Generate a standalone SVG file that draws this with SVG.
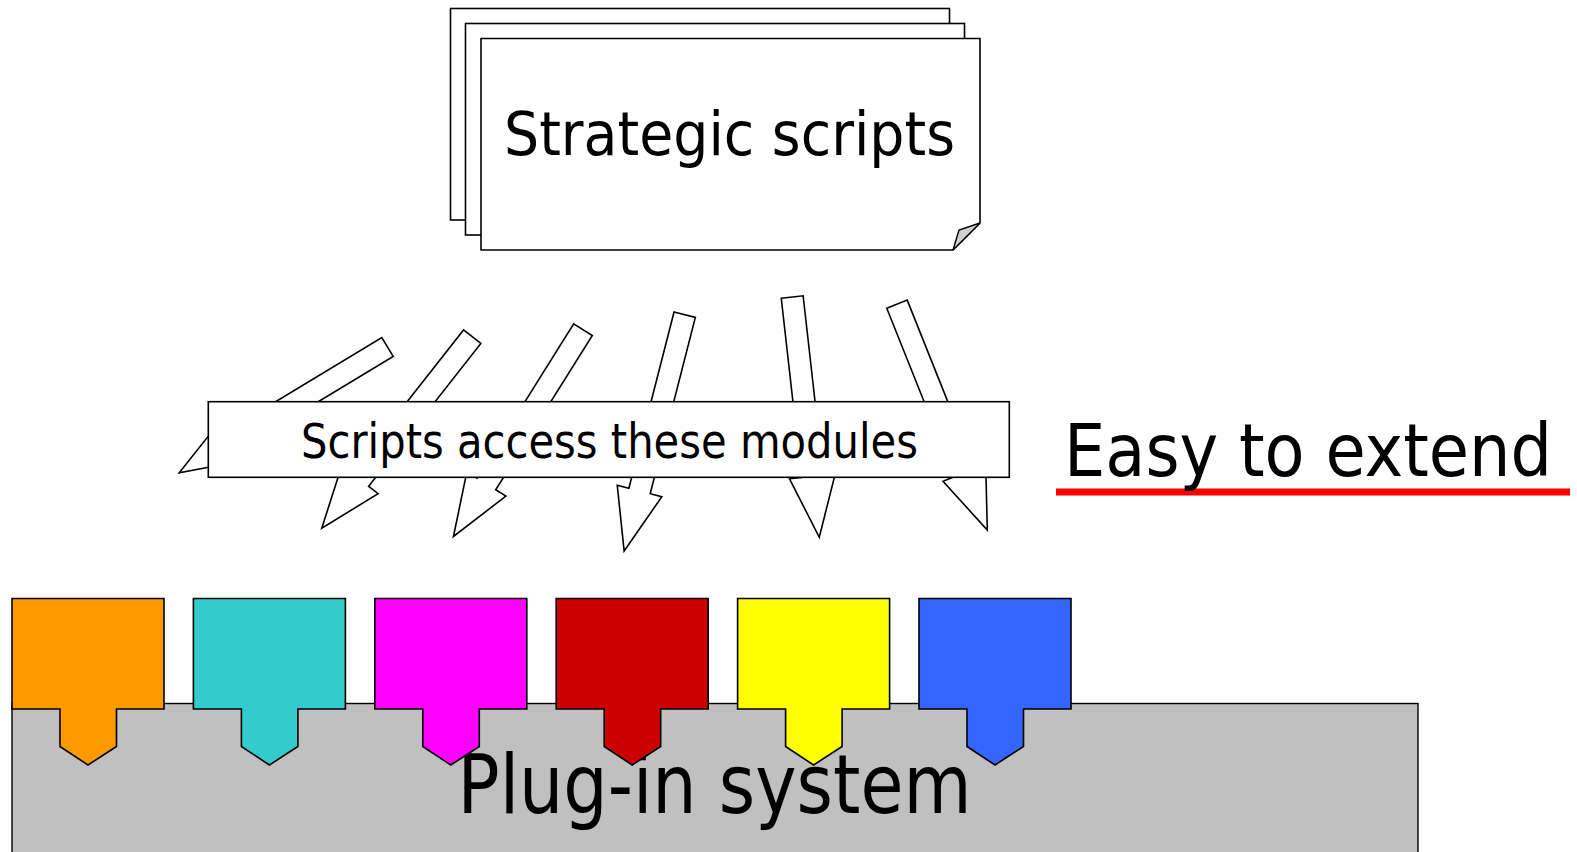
<svg xmlns="http://www.w3.org/2000/svg" xmlns:xlink="http://www.w3.org/1999/xlink" width="1577" height="852" viewBox="0 0 1577 852">
<style>
.page{fill:#fff;stroke:#000;stroke-width:1.6}
.arr{fill:#fff;stroke:#000;stroke-width:1.6;stroke-linejoin:miter}
.box{fill:#fff;stroke:#000;stroke-width:1.6}
.mod{stroke:#000;stroke-width:1.6;stroke-linejoin:miter}
.t{font-family:"DejaVu Sans","Liberation Sans",sans-serif;fill:#000;text-anchor:middle}
</style>
<defs>
<polygon id="arrowShape" class="arr" points="-11,0 11,0 11,182 23,182 0,244 -23,182 -11,182"/>
<path id="modShape" d="M0,0 H152 V110.5 H104.5 V148 L76,166.5 L48,148 V110.5 H0 Z"/>
</defs>
<rect width="1577" height="852" fill="#fff"/>
<g id="strategic-scripts">
<rect class="page" x="450.5" y="8.5" width="499" height="211.5"/>
<rect class="page" x="465.5" y="23.5" width="499" height="211.5"/>
<path class="page" d="M481,38.5 H980 V223 L953,250 H481 Z"/>
<path d="M953,250 L959,230 L980,223 Z" fill="#d0d0d0" stroke="#000" stroke-width="1.4"/>
<text class="t" x="729.5" y="155" font-size="60" textLength="451" lengthAdjust="spacingAndGlyphs">Strategic scripts</text>
</g>
<g id="connectors">
<use xlink:href="#arrowShape" transform="translate(387.5,347) rotate(58.88) scale(1,0.997)"/>
<use xlink:href="#arrowShape" transform="translate(472.2,336.7) rotate(38.15) scale(1,0.998)"/>
<use xlink:href="#arrowShape" transform="translate(583,329.7) rotate(32.07)"/>
<use xlink:href="#arrowShape" transform="translate(684.7,314.7) rotate(14.37)"/>
<use xlink:href="#arrowShape" transform="translate(792.2,297) rotate(-6.43) scale(1,0.991)"/>
<use xlink:href="#arrowShape" transform="translate(897,304.2) rotate(-21.79) scale(1,0.997)"/>
</g>
<g id="scripts-access">
<rect class="box" x="208.3" y="401.7" width="801" height="75.6"/>
<text class="t" x="609.5" y="458.3" font-size="48" textLength="617" lengthAdjust="spacingAndGlyphs">Scripts access these modules</text>
</g>
<g id="easy-to-extend">
<rect x="1056" y="488.5" width="514" height="7" fill="#ff0000"/>
<text class="t" transform="translate(1308,476) scale(1.022,1.14)" x="0" y="0" font-size="64">Easy to extend</text>
</g>
<g id="plugin-system">
<rect x="12" y="703.5" width="1406" height="160" fill="#c0c0c0" stroke="#000" stroke-width="1.4"/>
<text class="t" x="714.5" y="812.7" font-size="82" textLength="514" lengthAdjust="spacingAndGlyphs">Plug-in system</text>
</g>
<g id="module-orange"><use xlink:href="#modShape" class="mod" fill="#ff9900" transform="translate(12,598.5)"/></g>
<g id="module-cyan"><use xlink:href="#modShape" class="mod" fill="#33cccc" transform="translate(193.4,598.5)"/></g>
<g id="module-magenta"><use xlink:href="#modShape" class="mod" fill="#ff00ff" transform="translate(374.8,598.5)"/></g>
<g id="module-red"><use xlink:href="#modShape" class="mod" fill="#cc0000" transform="translate(556.2,598.5)"/></g>
<g id="module-yellow"><use xlink:href="#modShape" class="mod" fill="#ffff00" transform="translate(737.6,598.5)"/></g>
<g id="module-blue"><use xlink:href="#modShape" class="mod" fill="#3366ff" transform="translate(919,598.5)"/></g>
</svg>
